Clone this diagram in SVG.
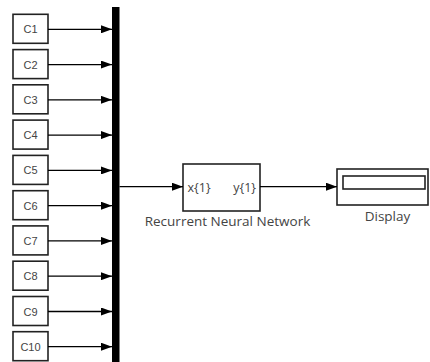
<svg xmlns="http://www.w3.org/2000/svg" width="430" height="362" viewBox="0 0 430 362">
<defs>
<marker id="ah" markerWidth="11" markerHeight="8" refX="11" refY="4" orient="auto" markerUnits="userSpaceOnUse">
<path d="M0,0 L11,4 L0,8 Z" fill="#000"/>
</marker>
<style>
.blk{fill:#fff;stroke:#222;stroke-width:1.6}
.lbl{font-family:"Liberation Sans",Arial,sans-serif;font-size:11px;fill:#444;text-anchor:middle}
.cap{font-family:"Open Sans","Noto Sans",sans-serif;font-size:13.5px;fill:#444;text-anchor:middle}
.port{font-family:"Open Sans","Noto Sans",sans-serif;font-size:12.5px;fill:#444}
.wire{stroke:#000;stroke-width:1.3;fill:none;marker-end:url(#ah)}
</style>
</defs>
<rect width="430" height="362" fill="#fff"/>
<g id="C1"><rect class="blk" x="13" y="14.3" width="35" height="29"/><text class="lbl" x="30.5" y="33.3">C1</text></g>
<g id="C2"><rect class="blk" x="13" y="49.6" width="35" height="29"/><text class="lbl" x="30.5" y="68.6">C2</text></g>
<g id="C3"><rect class="blk" x="13" y="84.8" width="35" height="29"/><text class="lbl" x="30.5" y="103.8">C3</text></g>
<g id="C4"><rect class="blk" x="13" y="120.1" width="35" height="29"/><text class="lbl" x="30.5" y="139.1">C4</text></g>
<g id="C5"><rect class="blk" x="13" y="155.4" width="35" height="29"/><text class="lbl" x="30.5" y="174.4">C5</text></g>
<g id="C6"><rect class="blk" x="13" y="190.7" width="35" height="29"/><text class="lbl" x="30.5" y="209.7">C6</text></g>
<g id="C7"><rect class="blk" x="13" y="225.9" width="35" height="29"/><text class="lbl" x="30.5" y="244.9">C7</text></g>
<g id="C8"><rect class="blk" x="13" y="261.2" width="35" height="29"/><text class="lbl" x="30.5" y="280.2">C8</text></g>
<g id="C9"><rect class="blk" x="13" y="296.5" width="35" height="29"/><text class="lbl" x="30.5" y="315.5">C9</text></g>
<g id="C10"><rect class="blk" x="13" y="331.7" width="35" height="29"/><text class="lbl" x="30.5" y="350.7">C10</text></g>
<g id="Mux"><rect x="112" y="7" width="7.5" height="360" fill="#000"/></g>
<g id="RNN"><rect class="blk" x="183" y="164" width="77" height="47"/>
<text class="port" x="187.5" y="192">x{1}</text><text class="port" x="256" y="192" text-anchor="end">y{1}</text>
<text class="cap" x="227.5" y="226">Recurrent Neural Network</text></g>
<g id="Display"><rect class="blk" x="337" y="169" width="91" height="36"/><rect class="blk" x="343" y="176" width="82" height="13"/>
<text class="cap" x="387.5" y="221">Display</text></g>
<g id="connectors">
<line class="wire" x1="48" y1="29.3" x2="112" y2="29.3"/>
<line class="wire" x1="48" y1="64.6" x2="112" y2="64.6"/>
<line class="wire" x1="48" y1="99.8" x2="112" y2="99.8"/>
<line class="wire" x1="48" y1="135.1" x2="112" y2="135.1"/>
<line class="wire" x1="48" y1="170.4" x2="112" y2="170.4"/>
<line class="wire" x1="48" y1="205.7" x2="112" y2="205.7"/>
<line class="wire" x1="48" y1="240.9" x2="112" y2="240.9"/>
<line class="wire" x1="48" y1="276.2" x2="112" y2="276.2"/>
<line class="wire" x1="48" y1="311.5" x2="112" y2="311.5"/>
<line class="wire" x1="48" y1="346.7" x2="112" y2="346.7"/>
<line class="wire" x1="119.5" y1="186.7" x2="183" y2="186.7"/>
<line class="wire" x1="260" y1="186.7" x2="337" y2="186.7"/>
</g>
</svg>
